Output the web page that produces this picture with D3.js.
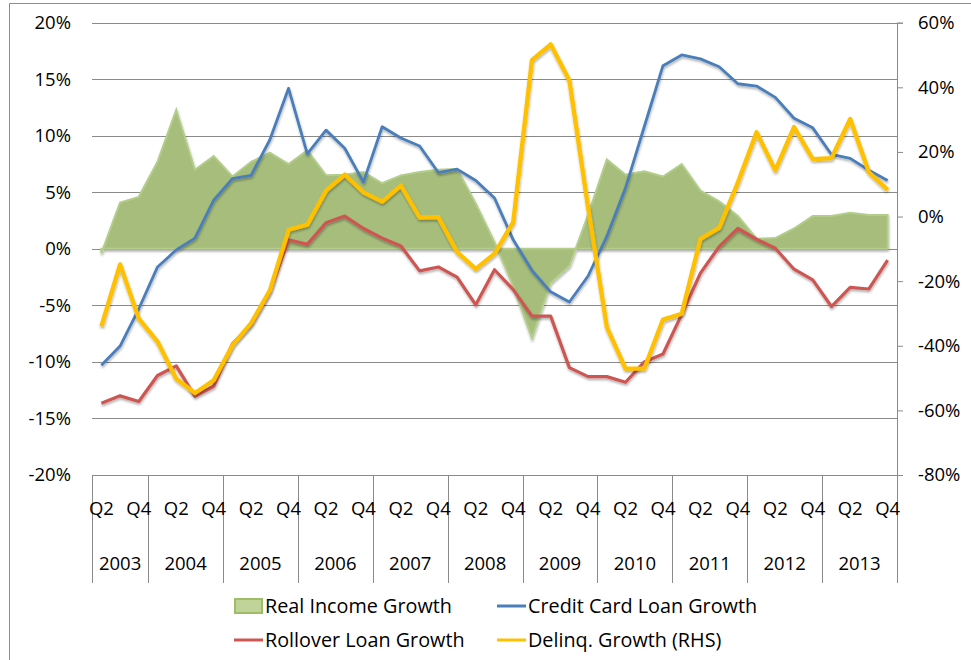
<!DOCTYPE html>
<html>
<head>
<meta charset="utf-8">
<script src="https://cdn.jsdelivr.net/npm/d3@7"></script>
<style>
  body { margin: 0; background: #fff; }
  svg { display: block; font-family: "Open Sans", Lato, sans-serif; }
  .tick text { fill: #000; }
</style>
</head>
<body>
<svg id="chart" width="971" height="660"></svg>
<script>
// Years shown on the category axis; 2003 starts in Q2
var years = [2003, 2004, 2005, 2006, 2007, 2008, 2009, 2010, 2011, 2012, 2013];
var quarterNames = ["Q1", "Q2", "Q3", "Q4"];

// Quarterly growth rates, 2003 Q2 .. 2013 Q4 (left axis, %)
var realIncome = [-0.4, 4.1, 4.6, 7.7, 12.3, 7.0, 8.2, 6.4, 7.7, 8.5, 7.5, 8.7, 6.5, 6.55, 6.8,
    5.8, 6.5, 6.8, 7.0, 7.05, 4.0, 0.6, -3.3, -7.9, -3.0, -1.5, 3.0, 7.9, 6.55, 6.85, 6.4,
    7.5, 5.15, 4.2, 2.9, 0.9, 0.95, 1.8, 2.9, 2.9, 3.2, 3.0, 3.0];
var creditCard = [-10.3, -8.6, -5.3, -1.6, -0.1, 0.95, 4.3, 6.2, 6.5, 9.65, 14.2, 8.4, 10.5, 8.9, 5.9,
    10.8, 9.8, 9.1, 6.75, 7.05, 6.05, 4.5, 0.8, -1.9, -3.8, -4.7, -2.4, 1.1, 5.4, 10.8, 16.2,
    17.15, 16.8, 16.1, 14.6, 14.4, 13.4, 11.55, 10.7, 8.35, 8.0, 6.95, 6.05];
var rollover = [-13.65, -13.0, -13.5, -11.2, -10.35, -13.05, -12.15, -8.4, -6.7, -3.8, 0.8, 0.4, 2.3, 2.9, 1.8,
    0.95, 0.25, -1.95, -1.6, -2.5, -4.95, -1.85, -3.6, -5.95, -5.95, -10.5, -11.3, -11.3, -11.8, -10.0, -9.3,
    -5.8, -2.15, 0.2, 1.8, 0.85, 0.05, -1.8, -2.75, -5.1, -3.4, -3.55, -1.0];
// Delinquency growth (right axis, %)
var delinq = [-34.0, -14.8, -31.6, -38.7, -50.2, -54.6, -50.7, -39.9, -33.0, -22.9, -4.1, -2.5, 8.0, 13.0, 7.5,
    4.6, 9.6, -0.3, -0.15, -11.0, -16.2, -11.5, -1.75, 48.4, 53.3, 42.1, 2.8, -34.2, -47.1, -47.1, -31.9,
    -30.1, -6.9, -3.5, 10.5, 26.1, 14.3, 27.7, 17.8, 18.1, 30.2, 13.7, 8.25];

var leftTicks = [-20, -15, -10, -5, 0, 5, 10, 15, 20];
var rightTicks = [-80, -60, -40, -20, 0, 20, 40, 60];

// Build the category list (year + quarter)
var categories = [];
years.forEach(function(y) {
    quarterNames.forEach(function(q) {
        if (y === 2003 && q === "Q1") return;
        categories.push({ key: y + "-" + q, year: y, q: q });
    });
});

var svg = d3.select("#chart");

// plot area edges
var plotLeft = 92, plotRight = 897, plotTop = 22.7, plotBottom = 475;

var x = d3.scaleBand()
    .domain(categories.map(function(d) { return d.key; }))
    .range([plotLeft, plotRight])
    .padding(0);
var cx = function(i) { return x(categories[i].key) + x.bandwidth() / 2; };

var yLeft = d3.scaleLinear().domain([-20, 20]).range([plotBottom, plotTop]);
var yRight = d3.scaleLinear().domain([-80, 60]).range([plotBottom, plotTop]);

// Shadow like the office chart lines
var defs = svg.append("defs");
var shadow = defs.append("filter").attr("id", "shadow")
    .attr("x", "-5%").attr("y", "-5%").attr("width", "110%").attr("height", "115%");
shadow.append("feDropShadow")
    .attr("dx", 0.5).attr("dy", 2).attr("stdDeviation", 1.2)
    .attr("flood-color", "#000").attr("flood-opacity", 0.3);

// Outer chart border
svg.append("path")
    .attr("d", "M9.5,700 V3.5 H980")
    .attr("fill", "none")
    .attr("stroke", "#8c8c8c")
    .attr("stroke-width", 1);

// Gridlines
svg.append("g")
    .selectAll("line")
    .data(leftTicks.slice(1))
    .enter()
    .append("line")
    .attr("x1", plotLeft).attr("x2", plotRight)
    .attr("y1", function(d) { return Math.round(yLeft(d)) + 0.5; })
    .attr("y2", function(d) { return Math.round(yLeft(d)) + 0.5; })
    .attr("stroke", "#8a8a8a")
    .attr("stroke-width", 1);

// Left axis labels
var gLeft = svg.append("g")
    .attr("transform", "translate(" + plotLeft + ",0)")
    .call(d3.axisLeft(yLeft).tickValues(leftTicks).tickSize(0).tickPadding(21)
        .tickFormat(function(d) { return d + "%"; }));
gLeft.select(".domain").remove();
gLeft.selectAll("text").attr("font-size", 18.5).attr("font-family", "Open Sans");

// Right axis
var gRight = svg.append("g")
    .attr("transform", "translate(" + plotRight + ",0)")
    .call(d3.axisRight(yRight).tickValues(rightTicks).tickSize(6).tickPadding(15)
        .tickFormat(function(d) { return d + "%"; }));
gRight.selectAll(".domain, line").attr("stroke", "#8a8a8a");
gRight.selectAll("text").attr("font-size", 18.5).attr("font-family", "Open Sans");

// Category axis
var gx = svg.append("g");
gx.append("line")
    .attr("x1", plotLeft).attr("x2", plotRight)
    .attr("y1", plotBottom + 0.5).attr("y2", plotBottom + 0.5)
    .attr("stroke", "#8a8a8a");

var yearEdges = [];
years.forEach(function(y) {
    var idx = categories.filter(function(c) { return c.year === y; });
    var x0 = x(idx[0].key);
    var x1 = x(idx[idx.length - 1].key) + x.bandwidth();
    yearEdges.push({ year: y, x0: x0, x1: x1 });
});

gx.selectAll("line.div")
    .data([plotLeft].concat(yearEdges.map(function(d) { return d.x1; })))
    .enter()
    .append("line")
    .attr("class", "div")
    .attr("x1", function(d) { return Math.round(d) + 0.5; })
    .attr("x2", function(d) { return Math.round(d) + 0.5; })
    .attr("y1", plotBottom).attr("y2", 583)
    .attr("stroke", "#8a8a8a");

gx.selectAll("text.q")
    .data(categories.filter(function(c) { return c.q === "Q2" || c.q === "Q4"; }))
    .enter()
    .append("text")
    .attr("class", "q")
    .attr("x", function(d) { return x(d.key) + x.bandwidth() / 2; })
    .attr("y", 515)
    .attr("text-anchor", "middle")
    .attr("font-size", 18.5)
    .text(function(d) { return d.q; });

gx.selectAll("text.yr")
    .data(yearEdges)
    .enter()
    .append("text")
    .attr("class", "yr")
    .attr("x", function(d) { return (d.x0 + d.x1) / 2; })
    .attr("y", 570)
    .attr("text-anchor", "middle")
    .attr("font-size", 18.5)
    .text(function(d) { return d.year; });

// Real income area
var area = d3.area()
    .x(function(d, i) { return cx(i); })
    .y0(yLeft(0))
    .y1(function(d) { return yLeft(d); });

svg.append("path")
    .datum(realIncome)
    .attr("d", area)
    .attr("fill", "#a6bd7b")
    .attr("stroke", "#b3cd8a")
    .attr("stroke-width", 2)
    .attr("filter", "url(#shadow)");

// Lines
function drawLine(values, scale, color, width) {
    var line = d3.line()
        .x(function(d, i) { return cx(i); })
        .y(function(d) { return scale(d); });
    svg.append("path")
        .datum(values)
        .attr("d", line)
        .attr("fill", "none")
        .attr("stroke", color)
        .attr("stroke-width", width)
        .attr("stroke-linejoin", "round")
        .attr("filter", "url(#shadow)");
}

drawLine(creditCard, yLeft, "#4a7ebb", 2.8);
drawLine(rollover, yLeft, "#cd5753", 3.2);
drawLine(delinq, yRight, "#ffc000", 4.3);

// Legend
var legendItems = [
    { name: "Real Income Growth", color: "#a6bd7b", type: "area", x: 234, y: 606 },
    { name: "Credit Card Loan Growth", color: "#4a7ebb", type: "line", x: 497, y: 606 },
    { name: "Rollover Loan Growth", color: "#cd5753", type: "line", x: 234, y: 640 },
    { name: "Delinq. Growth (RHS)", color: "#ffc000", type: "line", x: 497, y: 640 }
];

var legend = svg.append("g")
    .selectAll("g")
    .data(legendItems)
    .enter()
    .append("g")
    .attr("transform", function(d) { return "translate(" + d.x + "," + d.y + ")"; });

legend.filter(function(d) { return d.type === "area"; })
    .append("rect")
    .attr("x", 1).attr("y", -7).attr("width", 27).attr("height", 14)
    .attr("fill", "#c0d49a")
    .attr("stroke", "#9fbd66")
    .attr("stroke-width", 2);

legend.filter(function(d) { return d.type === "line"; })
    .append("line")
    .attr("x1", 0).attr("x2", 29).attr("y1", 0).attr("y2", 0)
    .attr("stroke", function(d) { return d.color; })
    .attr("stroke-width", 3);

legend.append("text")
    .attr("x", 31)
    .attr("y", 6.8)
    .attr("font-size", 19.8)
    .text(function(d) { return d.name; });
</script>
</body>
</html>
